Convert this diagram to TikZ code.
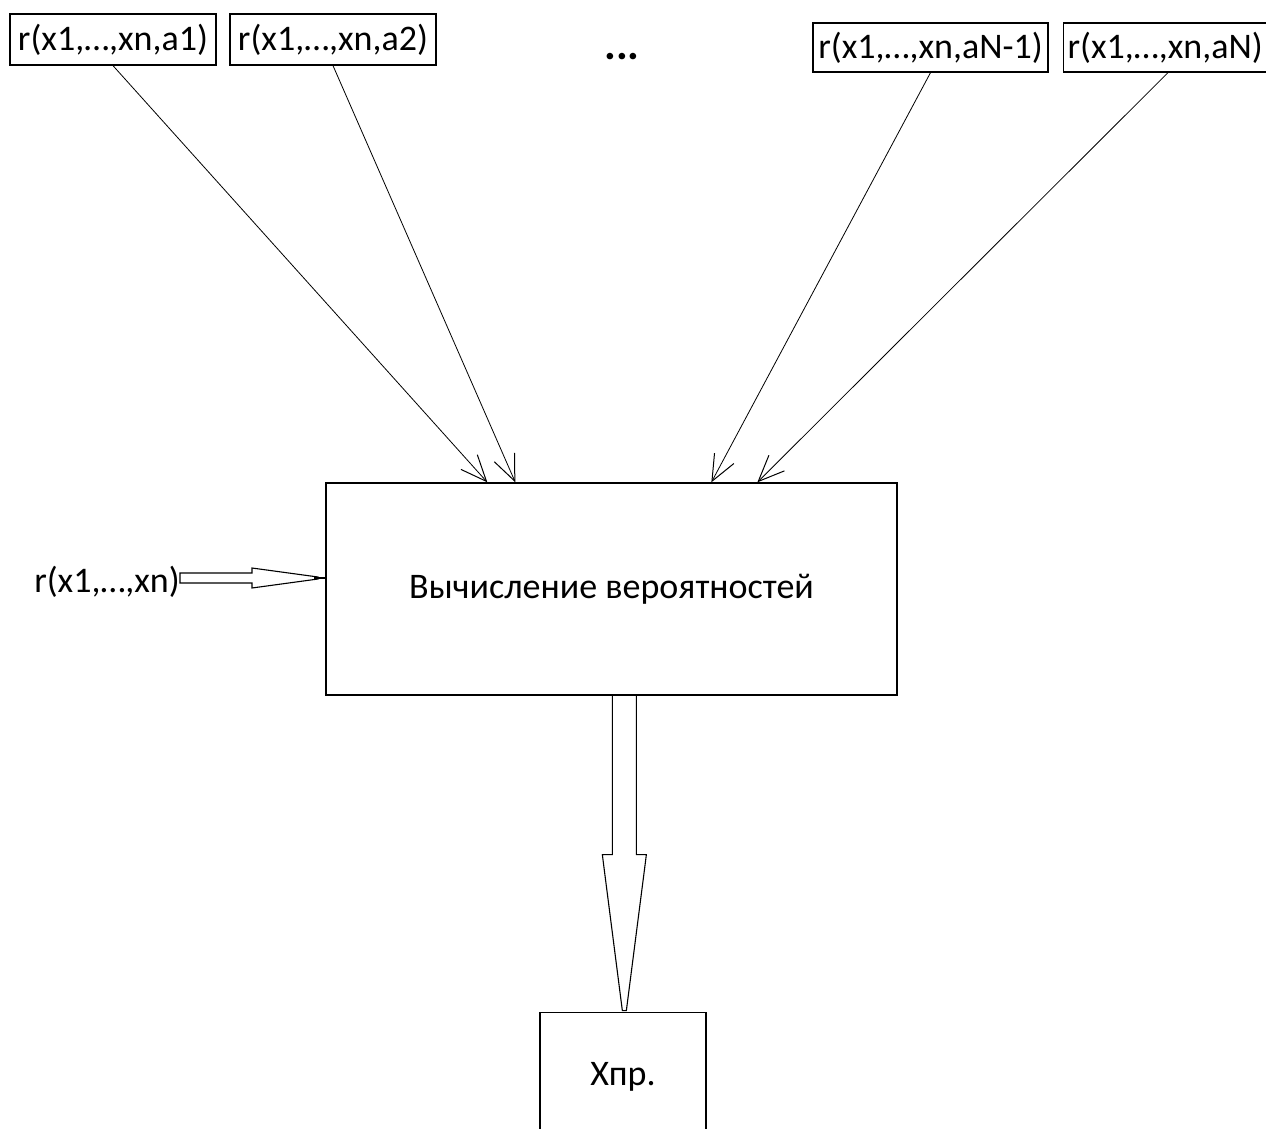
\documentclass[tikz,border=0pt]{standalone}
\usepackage{fontspec}
\setmainfont{Carlito}
\usetikzlibrary{arrows.meta,calc}
\begin{document}
\begin{tikzpicture}[x=1pt,y=-1pt,
  txt/.style={font=\fontsize{36}{40}\selectfont, inner sep=0pt},
  inbox/.style={txt, draw, line width=1.3pt, minimum height=51pt},
  block/.style={txt, draw, line width=1.3pt},
  feed/.style={line width=0.8pt, -{Straight Barb[length=26pt,width=22pt,line width=1pt]}},
  hollow/.style={draw, line width=1.1pt, fill=white}]
\useasboundingbox (0,0) rectangle (1266,1129);

% input boxes along the top
\node[inbox, minimum width=206pt] (b1) at (113,39.5) {r(x1,…,xn,a1)};
\node[inbox, minimum width=206pt] (b2) at (333,39.5) {r(x1,…,xn,a2)};
\node[txt, font=\fontsize{44}{44}\selectfont\bfseries] (dots) at (622,57) {...};
\node[inbox, minimum width=235pt, minimum height=49pt] (bn1) at (930.5,47.5) {r(x1,…,xn,aN-1)};
\node[inbox, minimum width=210pt, minimum height=49pt, anchor=west, text width=204pt, inner xsep=4pt, align=left] (bn) at (1063,47.5) {r(x1,…,xn,aN)};

% central block
\node[block, minimum width=571pt, minimum height=212pt] (main) at (611.5,589) {Вычисление вероятностей};

% output block
\node[block, minimum width=166pt, minimum height=150pt, anchor=north] (out) at (623,1012) {};
\node[txt] (outlbl) at (623,1077) {Хпр.};

% left input label
\node[txt, anchor=east] (rx) at (180,582) {r(x1,…,xn)};

% entry points on the top edge of the central block
\coordinate (e1) at ($(main.north west)+(162,0)$);
\coordinate (e2) at ($(main.north west)+(190,0)$);
\coordinate (e3) at ($(main.north west)+(386,0)$);
\coordinate (e4) at ($(main.north west)+(432,0)$);

\draw[feed] (b1.south) -- (e1);
\draw[feed] (b2.south) -- (e2);
\draw[feed] (bn1.south) -- (e3);
\draw[feed] ($(bn.south west)+(105,0)$) -- (e4);

% hollow arrow from the left label
\coordinate (ls) at (rx.east |- 0,578);
\draw[hollow] (ls) ++(0,-5) -- ++(72,0) -- ++(0,-5) -- ++(66,9) -- ++(0,2) -- ++(-66,9) -- ++(0,-5) -- ++(-72,0) -- cycle;
\draw[line width=2.5pt] ($(ls)+(134,0)$) -- (main.west |- ls);

% hollow arrow down to the output block
\coordinate (ds) at ($(main.south west)+(297.5,0)$);
\draw[hollow] (ds) ++(-10.5,0) -- ++(0,159) -- ++(-10,0) -- ++(1,8) -- ++(19,148) -- ++(4,0) -- ++(19,-148) -- ++(1,-8) -- ++(-10,0) -- ++(0,-159);
\draw[line width=1.3pt] (main.south west) -- (main.south east);
\end{tikzpicture}
\end{document}
